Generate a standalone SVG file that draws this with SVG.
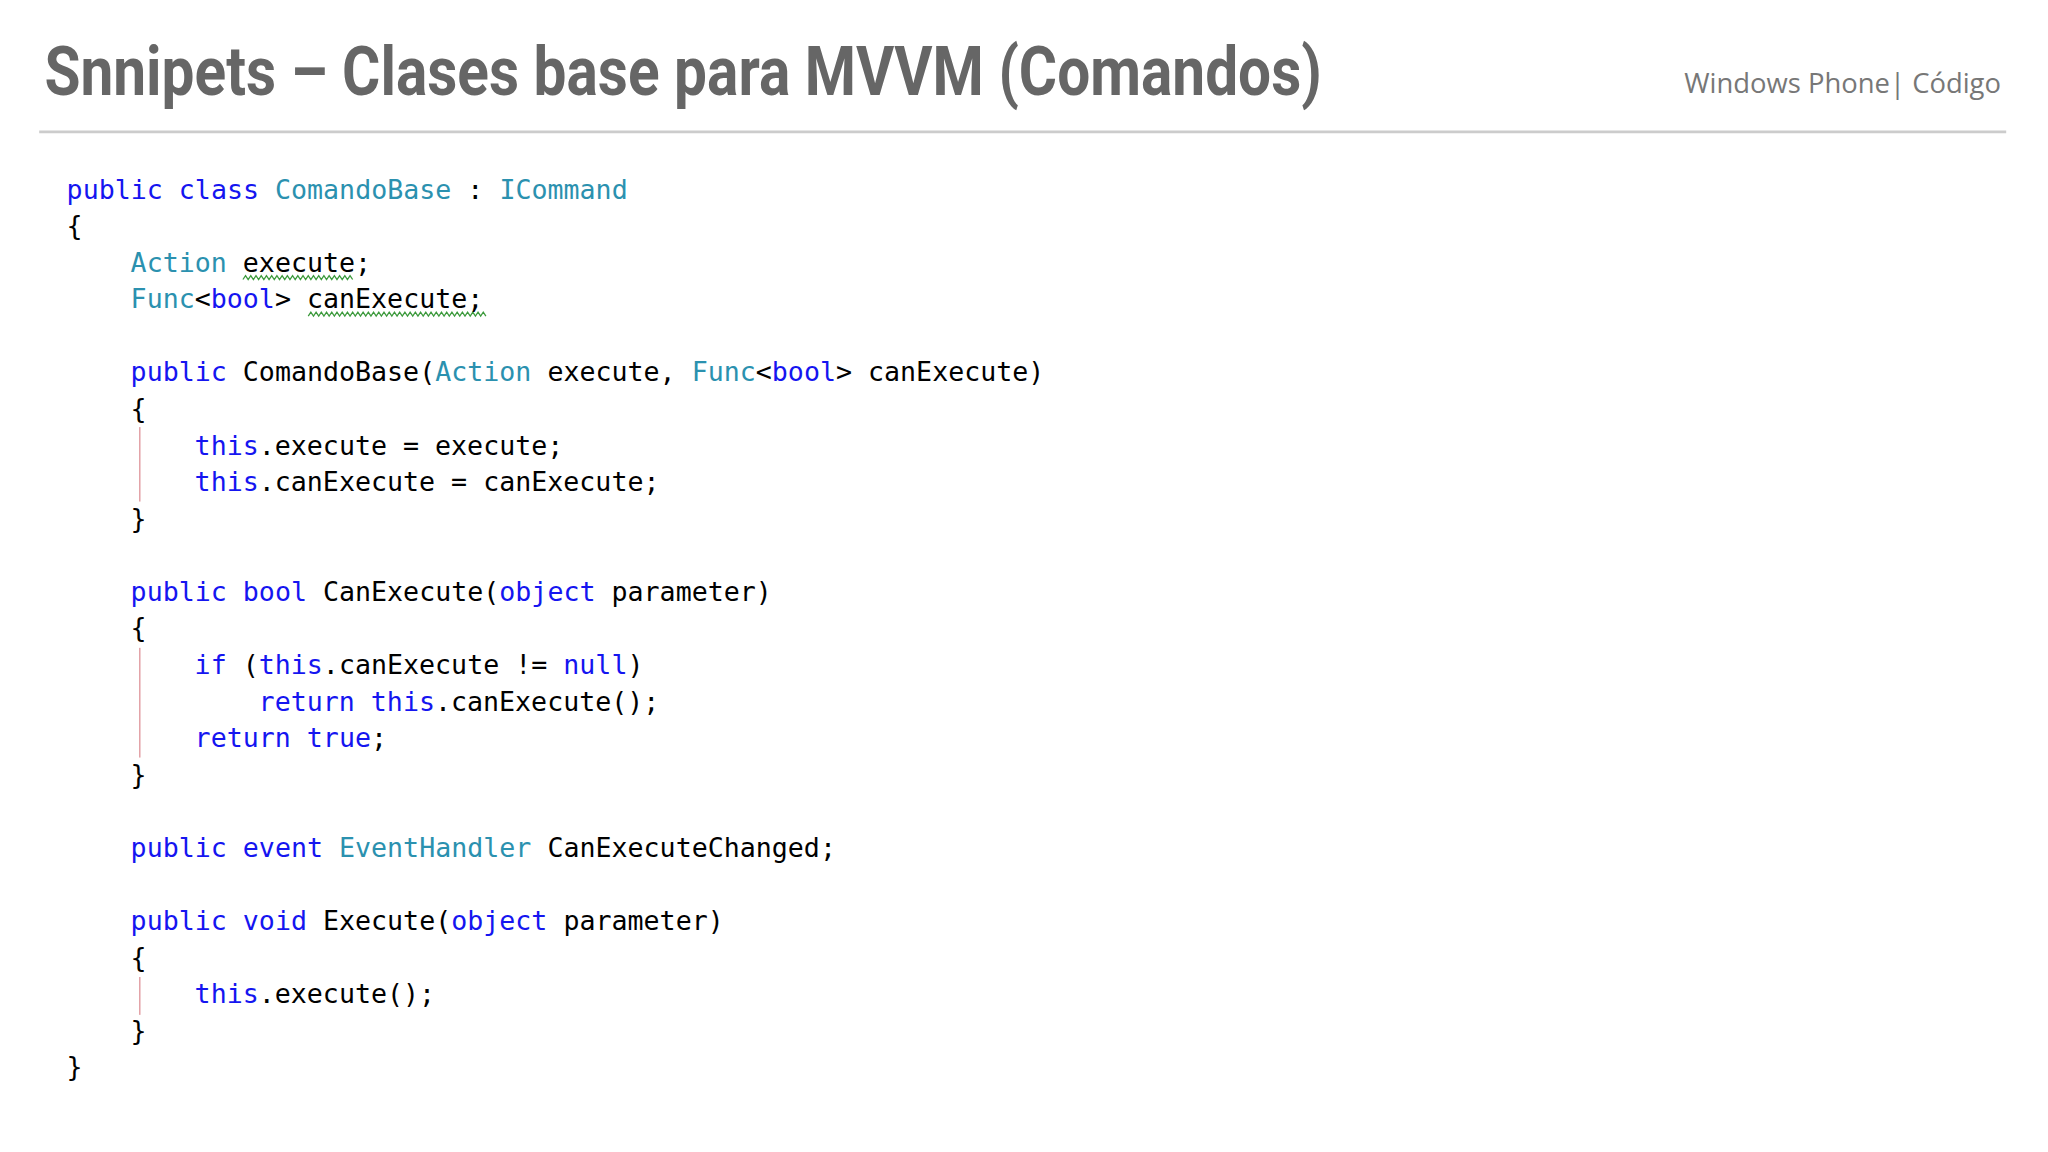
<svg xmlns="http://www.w3.org/2000/svg" width="2048" height="1152" viewBox="0 0 2048 1152">
<style>
.c{font-family:"DejaVu Sans Mono","Liberation Mono",monospace;font-size:20.4px;fill:#000}
.k{fill:#1515f0}.t{fill:#2b91af}
.g{stroke:#e3a3a8;stroke-width:1.2;fill:none}
.sq{stroke:#3c9a3c;stroke-width:1;fill:none}
</style>
<rect width="2048" height="1152" fill="#fff"/>
<g transform="scale(1.30612)">
<g id="header">
<text x="34" y="73" font-family="Roboto,'Liberation Sans',sans-serif" font-weight="bold" font-size="52" fill="#666" textLength="978" lengthAdjust="spacingAndGlyphs">Snnipets – Clases base para MVVM (Comandos)</text>
<text x="1532" y="71" text-anchor="end" font-family="'Open Sans','Liberation Sans',sans-serif" font-size="21" fill="#777">Windows Phone| Código</text>
<line x1="30" y1="101" x2="1536" y2="101" stroke="#ccc" stroke-width="2"/>
</g>
<g id="guides">
<line class="g" x1="107" y1="327" x2="107" y2="384"/>
<line class="g" x1="107" y1="496" x2="107" y2="580"/>
<line class="g" x1="107" y1="748" x2="107" y2="777"/>
<path class="sq" d="M186 214 l2 -3 l2 3 l2 -3 l2 3 l2 -3 l2 3 l2 -3 l2 3 l2 -3 l2 3 l2 -3 l2 3 l2 -3 l2 3 l2 -3 l2 3 l2 -3 l2 3 l2 -3 l2 3 l2 -3 l2 3 l2 -3 l2 3 l2 -3 l2 3 l2 -3 l2 3 l2 -3 l2 3 l2 -3 l2 3 l2 -3 l2 3 l2 -3 l2 3 l2 -3 l2 3 l2 -3 l2 3 l2 -3 l2 3"/>
<path class="sq" d="M236 242 l2 -3 l2 3 l2 -3 l2 3 l2 -3 l2 3 l2 -3 l2 3 l2 -3 l2 3 l2 -3 l2 3 l2 -3 l2 3 l2 -3 l2 3 l2 -3 l2 3 l2 -3 l2 3 l2 -3 l2 3 l2 -3 l2 3 l2 -3 l2 3 l2 -3 l2 3 l2 -3 l2 3 l2 -3 l2 3 l2 -3 l2 3 l2 -3 l2 3 l2 -3 l2 3 l2 -3 l2 3 l2 -3 l2 3 l2 -3 l2 3 l2 -3 l2 3 l2 -3 l2 3 l2 -3 l2 3 l2 -3 l2 3 l2 -3 l2 3 l2 -3 l2 3 l2 -3 l2 3 l2 -3 l2 3 l2 -3 l2 3 l2 -3 l2 3 l2 -3 l2 3 l2 -3 l2 3"/>
</g>
<g id="code" class="c" xml:space="preserve">
<text x="51" y="152"><tspan class="k">public class </tspan><tspan class="t">ComandoBase</tspan> : <tspan class="t">ICommand</tspan></text>
<text x="51" y="180">{</text>
<text x="100" y="208"><tspan class="t">Action</tspan> execute;</text>
<text x="100" y="236"><tspan class="t">Func</tspan>&lt;<tspan class="k">bool</tspan>&gt; canExecute;</text>
<text x="100" y="292"><tspan class="k">public</tspan> ComandoBase(<tspan class="t">Action</tspan> execute, <tspan class="t">Func</tspan>&lt;<tspan class="k">bool</tspan>&gt; canExecute)</text>
<text x="100" y="320">{</text>
<text x="149" y="348"><tspan class="k">this</tspan>.execute = execute;</text>
<text x="149" y="376"><tspan class="k">this</tspan>.canExecute = canExecute;</text>
<text x="100" y="404">}</text>
<text x="100" y="460"><tspan class="k">public bool</tspan> CanExecute(<tspan class="k">object</tspan> parameter)</text>
<text x="100" y="488">{</text>
<text x="149" y="516"><tspan class="k">if</tspan> (<tspan class="k">this</tspan>.canExecute != <tspan class="k">null</tspan>)</text>
<text x="198" y="544"><tspan class="k">return this</tspan>.canExecute();</text>
<text x="149" y="572"><tspan class="k">return true</tspan>;</text>
<text x="100" y="600">}</text>
<text x="100" y="656"><tspan class="k">public event</tspan> <tspan class="t">EventHandler</tspan> CanExecuteChanged;</text>
<text x="100" y="712"><tspan class="k">public void</tspan> Execute(<tspan class="k">object</tspan> parameter)</text>
<text x="100" y="740">{</text>
<text x="149" y="768"><tspan class="k">this</tspan>.execute();</text>
<text x="100" y="796">}</text>
<text x="51" y="824">}</text>
</g>
</g>
</svg>
